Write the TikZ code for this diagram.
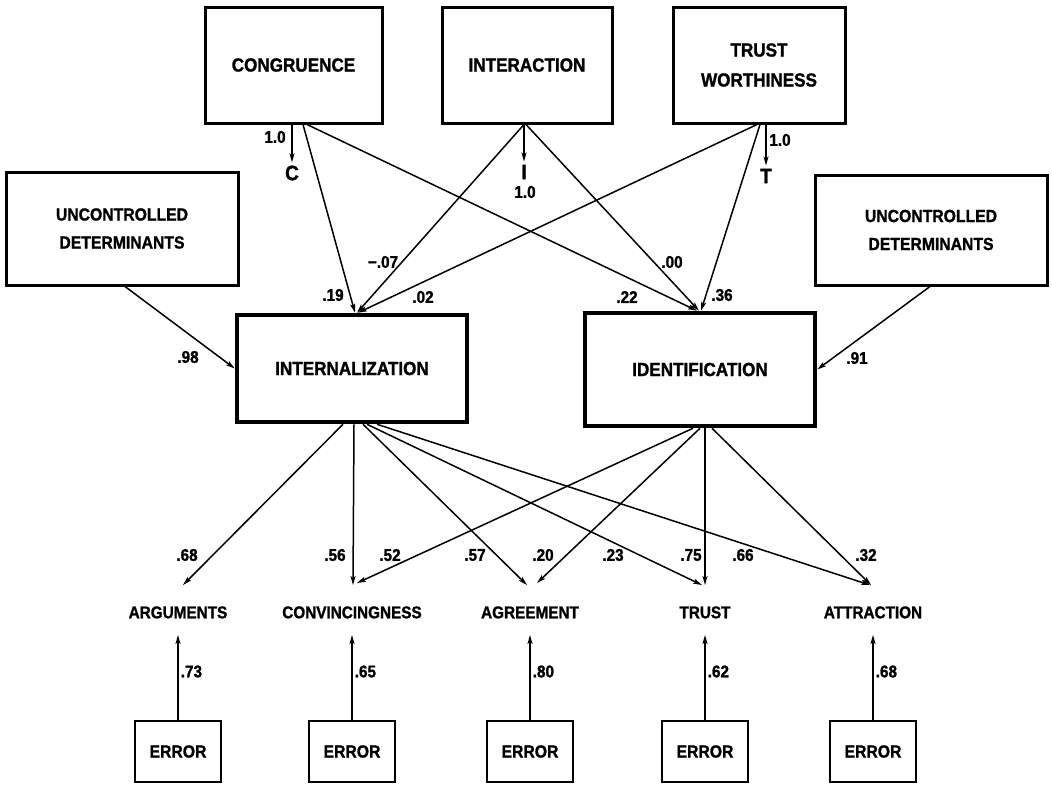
\documentclass[tikz,border=0pt]{standalone}
\usepackage{fontspec}
\newfontfamily\dfont{Liberation Sans}[FakeStretch=0.9, BoldFeatures={FakeBold=1.3}]
\usetikzlibrary{arrows.meta}
\newcommand\bxfont{\dfont\bfseries\fontsize{19}{30}\selectfont}
\newcommand\ucfont{\dfont\bfseries\fontsize{17.5}{28}\selectfont}
\newcommand\lbfont{\dfont\bfseries\fontsize{17}{20}\selectfont}
\newcommand\nmfont{\dfont\bfseries\fontsize{17}{20}\selectfont}
\newcommand\ltfont{\dfont\bfseries\fontsize{21}{24}\selectfont}
\begin{document}
\begin{tikzpicture}[x=1pt,y=-1pt,
  tbox/.style={draw, line width=3pt, inner sep=0pt, align=center, font=\bxfont},
  ubox/.style={draw, line width=3pt, inner sep=0pt, align=center, font=\ucfont,
               minimum width=232pt},
  mbox/.style={draw, line width=4.5pt, inner sep=0pt, align=center, font=\bxfont,
               minimum width=230pt},
  ebox/.style={draw, line width=2.2pt, inner sep=0pt, font=\ucfont,
               minimum width=86pt, minimum height=61pt},
  lbl/.style={font=\lbfont, inner sep=0pt, text height=12.5pt, text depth=0pt},
  num/.style={font=\nmfont, inner sep=0pt},
  ltr/.style={font=\ltfont, inner sep=0pt},
  arr/.style={line width=1.5pt, -{Stealth[length=9pt,width=5pt,inset=2pt]}}
]
\useasboundingbox (0,0) rectangle (1052,785);

% top boxes
\node[tbox, minimum width=177pt, minimum height=116pt] (cong) at (293.5,65) {CONGRUENCE};
\node[tbox, minimum width=170pt, minimum height=116pt] (inter) at (527,65) {INTERACTION};
\node[tbox, minimum width=172pt, minimum height=116pt] (trust) at (759,65) {TRUST\\WORTHINESS};

% uncontrolled determinants
\node[ubox, minimum height=113pt] (uncL) at (122,228.5) {UNCONTROLLED\\DETERMINANTS};
\node[ubox, minimum height=110pt] (uncR) at (931,230) {UNCONTROLLED\\DETERMINANTS};

% middle boxes
\node[mbox, minimum height=107pt] (intl) at (352,368.5) {INTERNALIZATION};
\node[mbox, minimum height=113pt] (iden) at (700,369.5) {IDENTIFICATION};

% letters
\node[ltr] (C) at (292,173) {C};
\node[ltr] (I) at (524,172) {I};
\node[ltr] (T) at (766,176) {T};

% bottom labels
\node[lbl] (args) at (178,612) {ARGUMENTS};
\node[lbl] (conv) at (352,612) {CONVINCINGNESS};
\node[lbl] (agree) at (530,612) {AGREEMENT};
\node[lbl] (trustL) at (705,612) {TRUST};
\node[lbl] (attr) at (873,612) {ATTRACTION};

% error boxes
\node[ebox] (e1) at (178,751.5) {ERROR};
\node[ebox] (e2) at (352,751.5) {ERROR};
\node[ebox] (e3) at (530,751.5) {ERROR};
\node[ebox] (e4) at (705,751.5) {ERROR};
\node[ebox] (e5) at (873,751.5) {ERROR};

% arrows to letters
\draw[arr] ([xshift=-1.5pt]cong.south) -- ([yshift=3pt]C.north);
\draw[arr] ([xshift=-3pt]inter.south) -- ([yshift=3pt]I.north);
\draw[arr] ([xshift=7pt]trust.south) -- ([yshift=3pt]T.north);
\node[num] (n1a) at (275,137) {1.0};
\node[num] (n1b) at (525,192) {1.0};
\node[num] (n1c) at (780,140) {1.0};

% top connectors
\draw[arr] ([xshift=9.5pt]cong.south) -- ([xshift=3pt]intl.north);
\draw[arr] ([xshift=13.5pt]cong.south) -- ([xshift=-3pt]iden.north);
\draw[arr] ([xshift=-3pt]inter.south) -- ([xshift=5pt]intl.north);
\draw[arr] ([xshift=-1pt]inter.south) -- ([xshift=-1pt]iden.north);
\draw[arr] ([xshift=-2pt]trust.south) -- ([xshift=6pt]intl.north);
\draw[arr] ([xshift=1pt]trust.south) -- ([xshift=1pt]iden.north);
\node[num] (p19) at (333,295) {.19};
\node[num] (p07) at (383,262) {−.07};
\node[num] (p02) at (423,297) {.02};
\node[num] (p22) at (627,297) {.22};
\node[num] (p00) at (672,262) {.00};
\node[num] (p36) at (722,295) {.36};

% uncontrolled arrows
\draw[arr] ([xshift=3pt]uncL.south) -- (intl.west);
\draw[arr] ([xshift=-1pt]uncR.south) -- (iden.east);
\node[num] (p98) at (188,357) {.98};
\node[num] (p91) at (857,358) {.91};

% bottom connectors from internalization
\draw[arr] ([xshift=-9pt]intl.south) -- ([shift={(5pt,20.5pt)}]args.north);
\draw[arr] ([xshift=2pt]intl.south) -- ([shift={(1pt,20.5pt)}]conv.north);
\draw[arr] ([xshift=11pt]intl.south) -- ([shift={(-3pt,20.5pt)}]agree.north);
\draw[arr] ([xshift=15pt]intl.south) -- ([shift={(-3pt,20.5pt)}]trustL.north);
\draw[arr] ([xshift=25pt]intl.south) -- ([shift={(-3pt,20.5pt)}]attr.north);
% bottom connectors from identification
\draw[arr] ([xshift=-7pt]iden.south) -- ([shift={(5pt,22.5pt)}]conv.north);
\draw[arr] (iden.south) -- ([shift={(7pt,22.5pt)}]agree.north);
\draw[arr] ([xshift=5pt]iden.south) -- ([shift={(0pt,20.5pt)}]trustL.north);
\draw[arr] ([xshift=12pt]iden.south) -- ([shift={(-2pt,20.5pt)}]attr.north);

\node[num] (q68) at (187,555) {.68};
\node[num] (q56) at (335,555) {.56};
\node[num] (q52) at (390,555) {.52};
\node[num] (q57) at (475,555) {.57};
\node[num] (q20) at (543,555) {.20};
\node[num] (q23) at (613,555) {.23};
\node[num] (q75) at (691,555) {.75};
\node[num] (q66) at (743,555) {.66};
\node[num] (q32) at (866,555) {.32};

% error arrows
\draw[arr] (e1.north) -- node[num, pos=0.57, anchor=west, xshift=2pt] (r1) {.73} ([yshift=-16.5pt]args.south);
\draw[arr] (e2.north) -- node[num, pos=0.57, anchor=west, xshift=2pt] (r2) {.65} ([yshift=-16.5pt]conv.south);
\draw[arr] (e3.north) -- node[num, pos=0.57, anchor=west, xshift=2pt] (r3) {.80} ([yshift=-16.5pt]agree.south);
\draw[arr] (e4.north) -- node[num, pos=0.57, anchor=west, xshift=2pt] (r4) {.62} ([yshift=-16.5pt]trustL.south);
\draw[arr] (e5.north) -- node[num, pos=0.57, anchor=west, xshift=2pt] (r5) {.68} ([yshift=-16.5pt]attr.south);
\end{tikzpicture}
\end{document}
